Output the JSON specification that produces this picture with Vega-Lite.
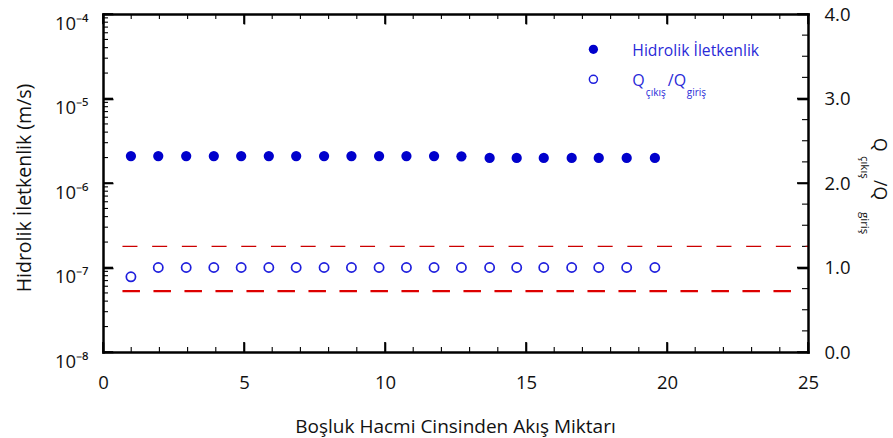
{
  "$schema": "https://vega.github.io/schema/vega-lite/v6.json",
  "width": 705,
  "height": 338,
  "autosize": "none",
  "padding": {"left": 103, "top": 14, "right": 85, "bottom": 86},
  "config": {
    "view": {"stroke": null, "fill": null},
    "font": "Open Sans",
    "axis": {
      "zindex": 2,
      "grid": false,
      "labelFont": "Open Sans",
      "titleFont": "Open Sans",
      "labelFontSize": 18.5,
      "titleFontSize": 19,
      "titleFontWeight": "normal",
      "labelColor": "#111111",
      "titleColor": "#111111",
      "domainColor": "#000000",
      "domainWidth": 2.5,
      "domainCap": "square",
      "tickColor": "#000000",
      "tickWidth": 1.6,
      "labelFlush": false,
      "labelOverlap": false
    }
  },
  "datasets": {
    "k": [
      {"x": 0.99, "K": 2.08e-6}, {"x": 1.96, "K": 2.08e-6}, {"x": 2.95, "K": 2.08e-6}, {"x": 3.93, "K": 2.08e-6},
      {"x": 4.90, "K": 2.08e-6}, {"x": 5.88, "K": 2.08e-6}, {"x": 6.85, "K": 2.08e-6}, {"x": 7.84, "K": 2.08e-6},
      {"x": 8.81, "K": 2.08e-6}, {"x": 9.79, "K": 2.08e-6}, {"x": 10.76, "K": 2.08e-6}, {"x": 11.74, "K": 2.08e-6},
      {"x": 12.71, "K": 2.07e-6}, {"x": 13.71, "K": 1.98e-6}, {"x": 14.67, "K": 1.98e-6}, {"x": 15.63, "K": 1.98e-6},
      {"x": 16.62, "K": 1.98e-6}, {"x": 17.58, "K": 1.98e-6}, {"x": 18.57, "K": 1.98e-6}, {"x": 19.57, "K": 1.98e-6}
    ],
    "q": [
      {"x": 0.99, "Q": 0.89}, {"x": 1.96, "Q": 1.0}, {"x": 2.95, "Q": 1.0}, {"x": 3.93, "Q": 1.0},
      {"x": 4.90, "Q": 1.0}, {"x": 5.88, "Q": 1.0}, {"x": 6.85, "Q": 1.0}, {"x": 7.84, "Q": 1.0},
      {"x": 8.81, "Q": 1.0}, {"x": 9.79, "Q": 1.0}, {"x": 10.76, "Q": 1.0}, {"x": 11.74, "Q": 1.0},
      {"x": 12.71, "Q": 1.0}, {"x": 13.71, "Q": 1.0}, {"x": 14.67, "Q": 1.0}, {"x": 15.63, "Q": 1.0},
      {"x": 16.62, "Q": 1.0}, {"x": 17.58, "Q": 1.0}, {"x": 18.57, "Q": 1.0}, {"x": 19.57, "Q": 1.0}
    ],
    "limits": [
      {"limit": "upper", "level": 1.25, "x1": 0.69, "x2": 25},
      {"limit": "lower", "level": 0.72, "x1": 0.69, "x2": 24.49}
    ],
    "xticks": [
      {"v": 0, "kind": "major"}, {"v": 1, "kind": "minor"}, {"v": 2, "kind": "minor"}, {"v": 3, "kind": "minor"}, {"v": 4, "kind": "minor"},
      {"v": 5, "kind": "major"}, {"v": 6, "kind": "minor"}, {"v": 7, "kind": "minor"}, {"v": 8, "kind": "minor"}, {"v": 9, "kind": "minor"},
      {"v": 10, "kind": "major"}, {"v": 11, "kind": "minor"}, {"v": 12, "kind": "minor"}, {"v": 13, "kind": "minor"}, {"v": 14, "kind": "minor"},
      {"v": 15, "kind": "major"}, {"v": 16, "kind": "minor"}, {"v": 17, "kind": "minor"}, {"v": 18, "kind": "minor"}, {"v": 19, "kind": "minor"},
      {"v": 20, "kind": "major"}, {"v": 21, "kind": "minor"}, {"v": 22, "kind": "minor"}, {"v": 23, "kind": "minor"}, {"v": 24, "kind": "minor"},
      {"v": 25, "kind": "major"}
    ],
    "kticks": [
      {"v": 1e-8, "kind": "major"}, {"v": 1e-7, "kind": "major"}, {"v": 1e-6, "kind": "major"}, {"v": 1e-5, "kind": "major"}, {"v": 1e-4, "kind": "major"},
      {"v": 2e-8, "kind": "minor"}, {"v": 3e-8, "kind": "minor"}, {"v": 4e-8, "kind": "minor"}, {"v": 5e-8, "kind": "minor"}, {"v": 6e-8, "kind": "minor"}, {"v": 7e-8, "kind": "minor"}, {"v": 8e-8, "kind": "minor"}, {"v": 9e-8, "kind": "minor"},
      {"v": 2e-7, "kind": "minor"}, {"v": 3e-7, "kind": "minor"}, {"v": 4e-7, "kind": "minor"}, {"v": 5e-7, "kind": "minor"}, {"v": 6e-7, "kind": "minor"}, {"v": 7e-7, "kind": "minor"}, {"v": 8e-7, "kind": "minor"}, {"v": 9e-7, "kind": "minor"},
      {"v": 2e-6, "kind": "minor"}, {"v": 3e-6, "kind": "minor"}, {"v": 4e-6, "kind": "minor"}, {"v": 5e-6, "kind": "minor"}, {"v": 6e-6, "kind": "minor"}, {"v": 7e-6, "kind": "minor"}, {"v": 8e-6, "kind": "minor"}, {"v": 9e-6, "kind": "minor"},
      {"v": 2e-5, "kind": "minor"}, {"v": 3e-5, "kind": "minor"}, {"v": 4e-5, "kind": "minor"}, {"v": 5e-5, "kind": "minor"}, {"v": 6e-5, "kind": "minor"}, {"v": 7e-5, "kind": "minor"}, {"v": 8e-5, "kind": "minor"}, {"v": 9e-5, "kind": "minor"}
    ],
    "qticks": [
      {"v": 0, "kind": "major"}, {"v": 1, "kind": "major"}, {"v": 2, "kind": "major"}, {"v": 3, "kind": "major"}, {"v": 4, "kind": "major"},
      {"v": 0.25, "kind": "minor"}, {"v": 0.5, "kind": "minor"}, {"v": 0.75, "kind": "minor"}, {"v": 1.25, "kind": "minor"}, {"v": 1.5, "kind": "minor"}, {"v": 1.75, "kind": "minor"},
      {"v": 2.25, "kind": "minor"}, {"v": 2.5, "kind": "minor"}, {"v": 2.75, "kind": "minor"}, {"v": 3.25, "kind": "minor"}, {"v": 3.5, "kind": "minor"}, {"v": 3.75, "kind": "minor"}
    ],
    "one": [{"id": 1}]
  },
  "layer": [
    {
      "data": {"name": "k"},
      "mark": {"type": "point", "filled": true, "size": 105, "color": "#0000cc", "opacity": 1},
      "encoding": {
        "x": {
          "field": "x", "type": "quantitative",
          "scale": {"domain": [0, 25], "nice": false, "zero": false},
          "axis": {
            "orient": "bottom", "values": [0, 5, 10, 15, 20, 25], "format": "d", "zindex": 2,
            "tickSize": -10, "labelPadding": 31, "labelBaseline": "top",
            "title": "Boşluk Hacmi Cinsinden Akış Miktarı",
            "titleX": 352, "titleY": 80, "titleAlign": "center", "titleBaseline": "alphabetic"
          }
        },
        "y": {
          "field": "K", "type": "quantitative",
          "scale": {"type": "log", "domain": [1e-8, 1e-4], "nice": false},
          "axis": {
            "orient": "left", "values": [1e-8, 1e-7, 1e-6, 1e-5, 1e-4], "zindex": 2,
            "tickSize": -10, "labelPadding": 25, "labelAlign": "right", "labelBaseline": "top",
            "labelExpr": "datum.value < 3e-8 ? '10⁻⁸' : datum.value < 3e-7 ? '10⁻⁷' : datum.value < 3e-6 ? '10⁻⁶' : datum.value < 3e-5 ? '10⁻⁵' : '10⁻⁴'",
            "title": "Hidrolik İletkenlik (m/s)", "titleFontSize": 19.5,
            "titleX": -73, "titleY": 173.5, "titleAngle": -90, "titleAlign": "center", "titleBaseline": "alphabetic"
          }
        }
      }
    },
    {
      "data": {"name": "k"},
      "mark": {"type": "point", "opacity": 0},
      "encoding": {
        "x": {
          "field": "x", "type": "quantitative",
          "scale": {"domain": [0, 25], "nice": false, "zero": false},
          "axis": {
            "orient": "top", "values": [0, 5, 10, 15, 20, 25], "zindex": 2,
            "tickSize": -10, "labels": false, "domain": true, "title": null
          }
        },
        "y": {
          "field": "K", "type": "quantitative",
          "scale": {"type": "log", "domain": [1e-8, 1e-4], "nice": false},
          "axis": null
        }
      }
    },
    {
      "data": {"name": "xticks"},
      "transform": [{"filter": "datum.kind === 'major'"}],
      "mark": {"type": "rule", "color": "#000000", "strokeWidth": 1.6},
      "encoding": {
        "x": {"field": "v", "type": "quantitative", "scale": {"domain": [0, 25], "nice": false, "zero": false}, "axis": null},
        "y": {"datum": 1e-8, "type": "quantitative", "scale": {"type": "log", "domain": [1e-8, 1e-4], "nice": false}, "axis": null},
        "y2": {"datum": 1.313e-8}
      }
    },
    {
      "data": {"name": "xticks"},
      "transform": [{"filter": "datum.kind === 'minor'"}],
      "mark": {"type": "rule", "color": "#000000", "strokeWidth": 1.1},
      "encoding": {
        "x": {"field": "v", "type": "quantitative", "scale": {"domain": [0, 25], "nice": false, "zero": false}, "axis": null},
        "y": {"datum": 1e-8, "type": "quantitative", "scale": {"type": "log", "domain": [1e-8, 1e-4], "nice": false}, "axis": null},
        "y2": {"datum": 1.146e-8}
      }
    },
    {
      "data": {"name": "xticks"},
      "transform": [{"filter": "datum.kind === 'major'"}],
      "mark": {"type": "rule", "color": "#000000", "strokeWidth": 1.6},
      "encoding": {
        "x": {"field": "v", "type": "quantitative", "scale": {"domain": [0, 25], "nice": false, "zero": false}, "axis": null},
        "y": {"datum": 1e-4, "type": "quantitative", "scale": {"type": "log", "domain": [1e-8, 1e-4], "nice": false}, "axis": null},
        "y2": {"datum": 7.615e-5}
      }
    },
    {
      "data": {"name": "xticks"},
      "transform": [{"filter": "datum.kind === 'minor'"}],
      "mark": {"type": "rule", "color": "#000000", "strokeWidth": 1.1},
      "encoding": {
        "x": {"field": "v", "type": "quantitative", "scale": {"domain": [0, 25], "nice": false, "zero": false}, "axis": null},
        "y": {"datum": 1e-4, "type": "quantitative", "scale": {"type": "log", "domain": [1e-8, 1e-4], "nice": false}, "axis": null},
        "y2": {"datum": 8.727e-5}
      }
    },
    {
      "data": {"name": "kticks"},
      "transform": [{"filter": "datum.kind === 'major'"}],
      "mark": {"type": "rule", "color": "#000000", "strokeWidth": 1.6},
      "encoding": {
        "y": {"field": "v", "type": "quantitative", "scale": {"type": "log", "domain": [1e-8, 1e-4], "nice": false}, "axis": null},
        "x": {"datum": 0, "type": "quantitative", "scale": {"domain": [0, 25], "nice": false, "zero": false}, "axis": null},
        "x2": {"datum": 0.355}
      }
    },
    {
      "data": {"name": "kticks"},
      "transform": [{"filter": "datum.kind === 'minor'"}],
      "mark": {"type": "rule", "color": "#000000", "strokeWidth": 1.1},
      "encoding": {
        "y": {"field": "v", "type": "quantitative", "scale": {"type": "log", "domain": [1e-8, 1e-4], "nice": false}, "axis": null},
        "x": {"datum": 0, "type": "quantitative", "scale": {"domain": [0, 25], "nice": false, "zero": false}, "axis": null},
        "x2": {"datum": 0.178}
      }
    },
    {
      "data": {"name": "qticks"},
      "transform": [{"filter": "datum.kind === 'major'"}],
      "mark": {"type": "rule", "color": "#000000", "strokeWidth": 1.6},
      "encoding": {
        "y": {"field": "v", "type": "quantitative", "scale": {"domain": [0, 4], "nice": false, "zero": false}, "axis": null},
        "x": {"datum": 25, "type": "quantitative", "scale": {"domain": [0, 25], "nice": false, "zero": false}, "axis": null},
        "x2": {"datum": 24.609}
      }
    },
    {
      "data": {"name": "qticks"},
      "transform": [{"filter": "datum.kind === 'minor'"}],
      "mark": {"type": "rule", "color": "#000000", "strokeWidth": 1.1},
      "encoding": {
        "y": {"field": "v", "type": "quantitative", "scale": {"domain": [0, 4], "nice": false, "zero": false}, "axis": null},
        "x": {"datum": 25, "type": "quantitative", "scale": {"domain": [0, 25], "nice": false, "zero": false}, "axis": null},
        "x2": {"datum": 24.787}
      }
    },
    {
      "data": {"name": "limits"},
      "transform": [{"filter": "datum.limit === 'upper'"}],
      "mark": {"type": "rule", "color": "#cc0000", "strokeWidth": 1.3, "strokeDash": [15, 14.7]},
      "encoding": {
        "x": {"field": "x1", "type": "quantitative", "scale": {"domain": [0, 25], "nice": false, "zero": false}, "axis": null},
        "x2": {"field": "x2"},
        "y": {"field": "level", "type": "quantitative", "scale": {"domain": [0, 4], "nice": false, "zero": false}, "axis": null}
      }
    },
    {
      "data": {"name": "limits"},
      "transform": [{"filter": "datum.limit === 'lower'"}],
      "mark": {"type": "rule", "color": "#dd0000", "strokeWidth": 2.4, "strokeDash": [17.5, 13.5]},
      "encoding": {
        "x": {"field": "x1", "type": "quantitative", "scale": {"domain": [0, 25], "nice": false, "zero": false}, "axis": null},
        "x2": {"field": "x2"},
        "y": {"field": "level", "type": "quantitative", "scale": {"domain": [0, 4], "nice": false, "zero": false}, "axis": null}
      }
    },
    {
      "data": {"name": "q"},
      "mark": {"type": "point", "filled": false, "size": 85, "strokeWidth": 1.7, "color": "#1f1fdd", "opacity": 1},
      "encoding": {
        "x": {"field": "x", "type": "quantitative", "scale": {"domain": [0, 25], "nice": false, "zero": false}, "axis": null},
        "y": {
          "field": "Q", "type": "quantitative",
          "scale": {"domain": [0, 4], "nice": false, "zero": false},
          "axis": {
            "orient": "right", "values": [0, 1, 2, 3, 4], "format": ".1f", "zindex": 2,
            "tickSize": -11, "labelPadding": 27, "labelAlign": "left", "labelBaseline": "middle",
            "domain": true, "title": null
          }
        }
      }
    },
    {
      "data": {"name": "one"},
      "mark": {"type": "point", "filled": true, "size": 85, "color": "#0000cc", "opacity": 1},
      "encoding": {
        "x": {"datum": 17.39, "type": "quantitative", "scale": {"domain": [0, 25], "nice": false, "zero": false}, "axis": null},
        "y": {"datum": 3.582, "type": "quantitative", "scale": {"domain": [0, 4], "nice": false, "zero": false}, "axis": null}
      }
    },
    {
      "data": {"name": "one"},
      "mark": {"type": "point", "filled": false, "size": 65, "strokeWidth": 1.5, "color": "#1f1fdd", "opacity": 1},
      "encoding": {
        "x": {"datum": 17.39, "type": "quantitative", "scale": {"domain": [0, 25], "nice": false, "zero": false}, "axis": null},
        "y": {"datum": 3.227, "type": "quantitative", "scale": {"domain": [0, 4], "nice": false, "zero": false}, "axis": null}
      }
    },
    {
      "data": {"name": "one"},
      "mark": {"type": "text", "text": "Hidrolik İletkenlik", "align": "left", "baseline": "alphabetic", "font": "Open Sans", "fontSize": 15.7, "color": "#2a2ad8"},
      "encoding": {
        "x": {"datum": 18.77, "type": "quantitative", "scale": {"domain": [0, 25], "nice": false, "zero": false}, "axis": null},
        "y": {"datum": 3.503, "type": "quantitative", "scale": {"domain": [0, 4], "nice": false, "zero": false}, "axis": null}
      }
    },
    {
      "data": {"name": "one"},
      "mark": {"type": "text", "text": "Q", "align": "left", "baseline": "alphabetic", "font": "Open Sans", "fontSize": 16, "color": "#2a2ad8"},
      "encoding": {
        "x": {"datum": 18.77, "type": "quantitative", "scale": {"domain": [0, 25], "nice": false, "zero": false}, "axis": null},
        "y": {"datum": 3.148, "type": "quantitative", "scale": {"domain": [0, 4], "nice": false, "zero": false}, "axis": null}
      }
    },
    {
      "data": {"name": "one"},
      "mark": {"type": "text", "text": "çıkış", "align": "left", "baseline": "alphabetic", "font": "Open Sans", "fontSize": 10, "color": "#2a2ad8"},
      "encoding": {
        "x": {"datum": 19.25, "type": "quantitative", "scale": {"domain": [0, 25], "nice": false, "zero": false}, "axis": null},
        "y": {"datum": 3.03, "type": "quantitative", "scale": {"domain": [0, 4], "nice": false, "zero": false}, "axis": null}
      }
    },
    {
      "data": {"name": "one"},
      "mark": {"type": "text", "text": "/Q", "align": "left", "baseline": "alphabetic", "font": "Open Sans", "fontSize": 16, "color": "#2a2ad8"},
      "encoding": {
        "x": {"datum": 20.03, "type": "quantitative", "scale": {"domain": [0, 25], "nice": false, "zero": false}, "axis": null},
        "y": {"datum": 3.148, "type": "quantitative", "scale": {"domain": [0, 4], "nice": false, "zero": false}, "axis": null}
      }
    },
    {
      "data": {"name": "one"},
      "mark": {"type": "text", "text": "giriş", "align": "left", "baseline": "alphabetic", "font": "Open Sans", "fontSize": 10, "color": "#2a2ad8"},
      "encoding": {
        "x": {"datum": 20.7, "type": "quantitative", "scale": {"domain": [0, 25], "nice": false, "zero": false}, "axis": null},
        "y": {"datum": 3.03, "type": "quantitative", "scale": {"domain": [0, 4], "nice": false, "zero": false}, "axis": null}
      }
    },
    {
      "data": {"name": "one"},
      "mark": {"type": "text", "text": "Q", "angle": 90, "align": "left", "baseline": "alphabetic", "font": "Open Sans", "fontSize": 17.5, "color": "#111111"},
      "encoding": {
        "x": {"datum": 27.35, "type": "quantitative", "scale": {"domain": [0, 25], "nice": false, "zero": false}, "axis": null},
        "y": {"datum": 2.533, "type": "quantitative", "scale": {"domain": [0, 4], "nice": false, "zero": false}, "axis": null}
      }
    },
    {
      "data": {"name": "one"},
      "mark": {"type": "text", "text": "çıkış", "angle": 90, "align": "left", "baseline": "alphabetic", "font": "Open Sans", "fontSize": 11.5, "color": "#111111"},
      "encoding": {
        "x": {"datum": 26.88, "type": "quantitative", "scale": {"domain": [0, 25], "nice": false, "zero": false}, "axis": null},
        "y": {"datum": 2.32, "type": "quantitative", "scale": {"domain": [0, 4], "nice": false, "zero": false}, "axis": null}
      }
    },
    {
      "data": {"name": "one"},
      "mark": {"type": "text", "text": "/Q", "angle": 90, "align": "left", "baseline": "alphabetic", "font": "Open Sans", "fontSize": 17.5, "color": "#111111"},
      "encoding": {
        "x": {"datum": 27.35, "type": "quantitative", "scale": {"domain": [0, 25], "nice": false, "zero": false}, "axis": null},
        "y": {"datum": 2.036, "type": "quantitative", "scale": {"domain": [0, 4], "nice": false, "zero": false}, "axis": null}
      }
    },
    {
      "data": {"name": "one"},
      "mark": {"type": "text", "text": "giriş", "angle": 90, "align": "left", "baseline": "alphabetic", "font": "Open Sans", "fontSize": 11.5, "color": "#111111"},
      "encoding": {
        "x": {"datum": 26.88, "type": "quantitative", "scale": {"domain": [0, 25], "nice": false, "zero": false}, "axis": null},
        "y": {"datum": 1.657, "type": "quantitative", "scale": {"domain": [0, 4], "nice": false, "zero": false}, "axis": null}
      }
    }
  ],
  "resolve": {"scale": {"y": "independent"}, "axis": {"x": "independent", "y": "independent"}}
}
